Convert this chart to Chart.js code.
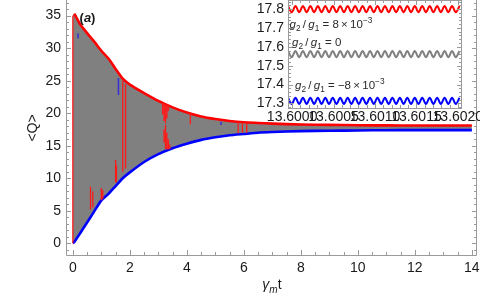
<!DOCTYPE html>
<html>
<head>
<meta charset="utf-8">
<script src="https://cdn.jsdelivr.net/npm/chart.js@4.4.1/dist/chart.umd.min.js"></script>
<style>
  html, body { margin: 0; padding: 0; background: #fff; }
  #wrap { position: relative; width: 480px; height: 295px; }
  #wrap canvas { position: absolute; left: 0; top: 0; }
</style>
</head>
<body>
<div id="wrap">
  <canvas id="mainChart" width="480" height="295"></canvas>
  <canvas id="insetChart" width="480" height="295"></canvas>
</div>
<script>
//Envelope of the fast oscillation of <Q>
const tEnv   = [0, 0.05, 0.25, 0.5, 0.75, 1.0, 1.25, 1.5, 1.75, 2.0, 2.5, 3.0, 3.5, 4.0, 4.5, 5.0, 5.5, 6.0, 6.5, 7.0, 8.0, 9.0, 10.0, 11.0, 12.0, 13.0, 14.0];
const qUpper = [35.0, 35.3, 33.7, 32.3, 31.0, 29.6, 28.4, 26.8, 25.3, 24.4, 23.1, 21.9, 20.9, 20.1, 19.5, 19.1, 18.8, 18.6, 18.5, 18.4, 18.25, 18.2, 18.15, 18.12, 18.1, 18.1, 18.1];
const qLower = [0.0, 0.2, 1.5, 3.2, 4.9, 6.6, 7.6, 8.8, 10.0, 10.9, 12.5, 13.7, 14.6, 15.3, 15.9, 16.3, 16.6, 16.8, 17.0, 17.1, 17.25, 17.3, 17.35, 17.38, 17.4, 17.4, 17.4];

//Red streaks inside the band
const redSpikeT  = [0.0, 0.62, 0.7, 1.0, 1.05, 1.5, 1.53, 1.75, 1.85, 3.15, 3.2, 3.25, 3.3, 3.35, 3.2, 3.25, 3.3, 3.35, 3.4, 4.12, 5.8, 5.95, 6.1];
const redSpikeLo = [0.0, 5.2, 5.5, 6.6, 6.8, 9.3, 9.5, 11.0, 11.5, 19.8, 18.8, 18.4, 19.2, 20.3, 15.5, 14.5, 14.4, 14.4, 14.5, 18.3, 16.9, 17.0, 17.0];
const redSpikeHi = [35.0, 8.7, 8.0, 8.5, 8.2, 12.8, 12.0, 25.0, 24.5, 21.6, 21.5, 21.4, 21.3, 21.2, 17.5, 18.2, 17.0, 16.0, 15.2, 20.2, 18.6, 18.4, 18.5];
//Blue streaks
const blueSpikeT  = [0.18, 1.6, 5.2];
const blueSpikeLo = [31.5, 22.8, 18.2];
const blueSpikeHi = [32.3, 25.4, 18.7];

const xTicks = [0, 2, 4, 6, 8, 10, 12, 14];
const yTicks = [0, 5, 10, 15, 20, 25, 30, 35];

//Inset: zoom at gamma_m t ~ 13.6
const insetT = [13.599950, 13.599995, 13.600040, 13.600085, 13.600130, 13.600175, 13.600220, 13.600265, 13.600310, 13.600355,
                13.600400, 13.600445, 13.600490, 13.600535, 13.600580, 13.600625, 13.600670, 13.600715, 13.600760, 13.600805,
                13.600850, 13.600895, 13.600940, 13.600985, 13.601030, 13.601075, 13.601120, 13.601165, 13.601210, 13.601255,
                13.601300, 13.601345, 13.601390, 13.601435, 13.601480, 13.601525, 13.601570, 13.601615, 13.601660, 13.601705,
                13.601750, 13.601795, 13.601840, 13.601885, 13.601930, 13.601975, 13.602020];
const insetRed  = [17.816, 17.783, 17.816, 17.783, 17.816, 17.783, 17.816, 17.783, 17.816, 17.783, 17.816, 17.783, 17.816, 17.783, 17.816, 17.783,
                   17.816, 17.783, 17.816, 17.783, 17.816, 17.783, 17.816, 17.783, 17.816, 17.783, 17.816, 17.783, 17.816, 17.783, 17.816, 17.783,
                   17.816, 17.783, 17.816, 17.783, 17.816, 17.783, 17.816, 17.783, 17.816, 17.783, 17.816, 17.783, 17.816, 17.783, 17.816];
const insetGray = [17.578, 17.545, 17.578, 17.545, 17.578, 17.545, 17.578, 17.545, 17.578, 17.545, 17.578, 17.545, 17.578, 17.545, 17.578, 17.545,
                   17.578, 17.545, 17.578, 17.545, 17.578, 17.545, 17.578, 17.545, 17.578, 17.545, 17.578, 17.545, 17.578, 17.545, 17.578, 17.545,
                   17.578, 17.545, 17.578, 17.545, 17.578, 17.545, 17.578, 17.545, 17.578, 17.545, 17.578, 17.545, 17.578, 17.545, 17.578];
const insetBlue = [17.330, 17.297, 17.330, 17.297, 17.330, 17.297, 17.330, 17.297, 17.330, 17.297, 17.330, 17.297, 17.330, 17.297, 17.330, 17.297,
                   17.330, 17.297, 17.330, 17.297, 17.330, 17.297, 17.330, 17.297, 17.330, 17.297, 17.330, 17.297, 17.330, 17.297, 17.330, 17.297,
                   17.330, 17.297, 17.330, 17.297, 17.330, 17.297, 17.330, 17.297, 17.330, 17.297, 17.330, 17.297, 17.330, 17.297, 17.330];
const insetXTicks = [13.6000, 13.6005, 13.6010, 13.6015, 13.6020];
const insetYTicks = [17.3, 17.4, 17.5, 17.6, 17.7, 17.8];

const FONT = '"Liberation Sans", Arial, sans-serif';
const frameColor = '#9a9a9a';
const labelColor = '#1a1a1a';

function toPoints(xs, ys){
    return xs.map((x, i) => ({x: x, y: ys[i]}));
}

//vertical segments separated by gaps
function toSegments(ts, lo, hi){
    const pts = [];
    ts.forEach((t, i) => {
        pts.push({x: t, y: lo[i]}, {x: t, y: hi[i]}, {x: t, y: null});
    });
    return pts;
}

function minorTicks(major, step, from, to){
    const out = [];
    for (let v = from; v <= to + 1e-9; v += step){
        if (!major.some(m => Math.abs(m - v) < step / 10)) out.push(v);
    }
    return out;
}

//text with italic / sub / sup pieces
function drawRich(ctx, parts, x, y, size, align){
    const fonts = parts.map(p => {
        const s = (p.sub || p.sup) ? size * 0.72 : size;
        return (p.bold ? 'bold ' : '') + (p.it ? 'italic ' : '') + s + 'px ' + FONT;
    });
    let w = 0;
    parts.forEach((p, i) => { ctx.font = fonts[i]; w += ctx.measureText(p.t).width; });
    let cx = align === 'center' ? x - w / 2 : x;
    ctx.textBaseline = 'alphabetic';
    ctx.textAlign = 'left';
    parts.forEach((p, i) => {
        ctx.font = fonts[i];
        const dy = p.sub ? size * 0.28 : (p.sup ? -size * 0.42 : 0);
        ctx.fillText(p.t, cx, y + dy);
        cx += ctx.measureText(p.t).width;
    });
}

function frameTicks(ctx, a, x, y, xMaj, xMin, yMaj, yMin, sides){
    ctx.beginPath();
    const sx = v => Math.round(x.getPixelForValue(v)) + 0.5;
    const sy = v => Math.round(y.getPixelForValue(v)) + 0.5;
    const tick = (list, len) => {
        list.forEach(v => {
            const px = sx(v);
            if (px < a.left || px > a.right) return;
            if (sides.bottom){ ctx.moveTo(px, a.bottom); ctx.lineTo(px, a.bottom - len); }
            if (sides.top){ ctx.moveTo(px, a.top); ctx.lineTo(px, a.top + len); }
        });
    };
    const tickY = (list, len) => {
        list.forEach(v => {
            const py = sy(v);
            if (py < a.top || py > a.bottom) return;
            if (sides.left){ ctx.moveTo(a.left, py); ctx.lineTo(a.left + len, py); }
            if (sides.right){ ctx.moveTo(a.right, py); ctx.lineTo(a.right - len, py); }
        });
    };
    tick(xMaj, 5); tick(xMin, 3);
    tickY(yMaj, 5); tickY(yMin, 3);
    ctx.stroke();
}

Chart.defaults.font.family = FONT;
Chart.defaults.color = labelColor;

//Main plot
const xMinor = minorTicks(xTicks, 0.5, 0, 14);
const yMinor = minorTicks(yTicks, 1, -1, 37);

const mainFrame = {
    id: 'mainFrame',
    afterDraw(chart){
        const {ctx, chartArea: a, scales: {x, y}} = chart;
        ctx.save();
        ctx.strokeStyle = frameColor;
        ctx.lineWidth = 1;
        ctx.beginPath();
        ctx.moveTo(a.left + 0.5, a.top);
        ctx.lineTo(a.left + 0.5, a.bottom + 0.5);
        ctx.lineTo(a.right - 0.5, a.bottom + 0.5);
        ctx.lineTo(a.right - 0.5, a.top);
        ctx.stroke();
        frameTicks(ctx, a, x, y, xTicks, xMinor, yTicks, yMinor, {bottom: true, left: true, right: true});

        ctx.fillStyle = labelColor;
        //axis titles
        drawRich(ctx, [{t: 'γ', it: true}, {t: 'm', it: true, sub: true}, {t: 't'}], 272, 289, 14, 'center');
        ctx.save();
        ctx.translate(33, 128);
        ctx.rotate(-Math.PI / 2);
        ctx.font = '14px ' + FONT;
        ctx.textAlign = 'center';
        ctx.textBaseline = 'middle';
        ctx.fillText('<Q>', 0, 0);
        ctx.restore();
        //panel label
        drawRich(ctx, [{t: '(', bold: true}, {t: 'a', bold: true, it: true}, {t: ')', bold: true}], 87.5, 22, 13, 'center');
        ctx.restore();
    }
};

new Chart(document.getElementById('mainChart'), {
    type: 'line',
    data: {
        datasets: [
            {
                data: toPoints(tEnv, qUpper),
                borderWidth: 0,
                pointRadius: 0,
                backgroundColor: '#808080',
                fill: '+1',
                tension: 0.2,
                order: 5
            },
            {
                data: toPoints(tEnv, qLower),
                borderWidth: 0,
                pointRadius: 0,
                fill: false,
                tension: 0.2,
                order: 5
            },
            {
                data: toPoints(tEnv.slice(1), qUpper.slice(1)),
                borderColor: '#ff0000',
                borderWidth: 2.6,
                pointRadius: 0,
                fill: false,
                tension: 0.2,
                order: 2
            },
            {
                data: toPoints(tEnv, qLower),
                borderColor: '#0000ff',
                borderWidth: 2.6,
                pointRadius: 0,
                fill: false,
                tension: 0.2,
                order: 2
            },
            {
                data: toSegments(redSpikeT, redSpikeLo, redSpikeHi),
                borderColor: '#ff1a1a',
                borderWidth: 1.3,
                pointRadius: 0,
                fill: false,
                spanGaps: false,
                order: 1
            },
            {
                data: toSegments(blueSpikeT, blueSpikeLo, blueSpikeHi),
                borderColor: '#3a2fd0',
                borderWidth: 1.5,
                pointRadius: 0,
                fill: false,
                spanGaps: false,
                order: 1
            }
        ]
    },
    options: {
        responsive: false,
        animation: false,
        devicePixelRatio: 1,
        layout: { padding: { left: 0, right: 3, top: 0, bottom: 0 } },
        plugins: { legend: { display: false }, tooltip: { enabled: false } },
        scales: {
            x: {
                type: 'linear',
                min: -0.24,
                max: 14.18,
                grid: { display: false, drawTicks: false },
                border: { display: false },
                afterBuildTicks: s => { s.ticks = xTicks.map(v => ({value: v})); },
                afterFit: s => { s.height = 40; s.paddingLeft = 0; s.paddingRight = 0; },
                ticks: { font: { size: 14 }, padding: 5, maxRotation: 0, autoSkip: false }
            },
            y: {
                type: 'linear',
                min: -1.8,
                max: 37.4,
                grid: { display: false, drawTicks: false },
                border: { display: false },
                afterBuildTicks: s => { s.ticks = yTicks.map(v => ({value: v})); },
                afterFit: s => { s.width = 66; s.paddingTop = 0; s.paddingBottom = 0; },
                ticks: { font: { size: 14 }, padding: 5, autoSkip: false }
            }
        }
    },
    plugins: [mainFrame]
});

//Inset
const insetXMinor = minorTicks(insetXTicks, 0.0001, 13.5999, 13.6020);
const insetYMinor = minorTicks(insetYTicks, 0.02, 17.28, 17.84);

const insetFrame = {
    id: 'insetFrame',
    beforeDraw(chart){
        const {ctx, chartArea: a} = chart;
        ctx.save();
        ctx.fillStyle = '#ffffff';
        ctx.fillRect(a.left, a.top, a.right - a.left, a.bottom - a.top);
        ctx.restore();
    },
    afterDraw(chart){
        const {ctx, chartArea: a, scales: {x, y}} = chart;
        ctx.save();
        ctx.strokeStyle = frameColor;
        ctx.lineWidth = 1;
        ctx.strokeRect(a.left + 0.5, a.top + 0.5, a.right - a.left - 1, a.bottom - a.top);
        frameTicks(ctx, a, x, y, insetXTicks, insetXMinor, insetYTicks, insetYMinor, {bottom: true, top: true, left: true, right: true});

        ctx.fillStyle = '#2a2a2a';
        const thin = '\u2009';
        drawRich(ctx, [{t: 'g', it: true}, {t: '2', sub: true}, {t: thin + '/' + thin}, {t: 'g', it: true}, {t: '1', sub: true},
                       {t: ' = 8' + thin + '×' + thin + '10'}, {t: '−3', sup: true}], 289.5, 28, 11.5);
        drawRich(ctx, [{t: 'g', it: true}, {t: '2', sub: true}, {t: thin + '/' + thin}, {t: 'g', it: true}, {t: '1', sub: true},
                       {t: ' = 0'}], 292, 46, 11.5);
        drawRich(ctx, [{t: 'g', it: true}, {t: '2', sub: true}, {t: thin + '/' + thin}, {t: 'g', it: true}, {t: '1', sub: true},
                       {t: ' = −8' + thin + '×' + thin + '10'}, {t: '−3', sup: true}], 295, 89, 11.5);
        ctx.restore();
    }
};

new Chart(document.getElementById('insetChart'), {
    type: 'line',
    data: {
        datasets: [
            { data: toPoints(insetT, insetRed), borderColor: '#ff0000', borderWidth: 2, pointRadius: 0, cubicInterpolationMode: 'monotone' },
            { data: toPoints(insetT, insetGray), borderColor: '#808080', borderWidth: 2, pointRadius: 0, cubicInterpolationMode: 'monotone' },
            { data: toPoints(insetT, insetBlue), borderColor: '#0000ff', borderWidth: 2, pointRadius: 0, cubicInterpolationMode: 'monotone' }
        ]
    },
    options: {
        responsive: false,
        animation: false,
        devicePixelRatio: 1,
        layout: { padding: { left: 250, right: 18, top: 0, bottom: 167 } },
        plugins: { legend: { display: false }, tooltip: { enabled: false } },
        scales: {
            x: {
                type: 'linear',
                min: 13.59995,
                max: 13.60205,
                grid: { display: false, drawTicks: false },
                border: { display: false },
                afterBuildTicks: s => { s.ticks = insetXTicks.map(v => ({value: v})); },
                afterFit: s => { s.height = 20; s.paddingLeft = 0; s.paddingRight = 0; },
                ticks: { font: { size: 14 }, padding: 1, maxRotation: 0, minRotation: 0, autoSkip: false,
                         callback: v => v.toFixed(4) }
            },
            y: {
                type: 'linear',
                min: 17.276,
                max: 17.848,
                grid: { display: false, drawTicks: false },
                border: { display: false },
                afterBuildTicks: s => { s.ticks = insetYTicks.map(v => ({value: v})); },
                afterFit: s => { s.width = 38; s.paddingTop = 0; s.paddingBottom = 0; },
                ticks: { font: { size: 14 }, padding: 4, autoSkip: false, callback: v => v.toFixed(1) }
            }
        }
    },
    plugins: [insetFrame]
});
</script>
</body>
</html>
